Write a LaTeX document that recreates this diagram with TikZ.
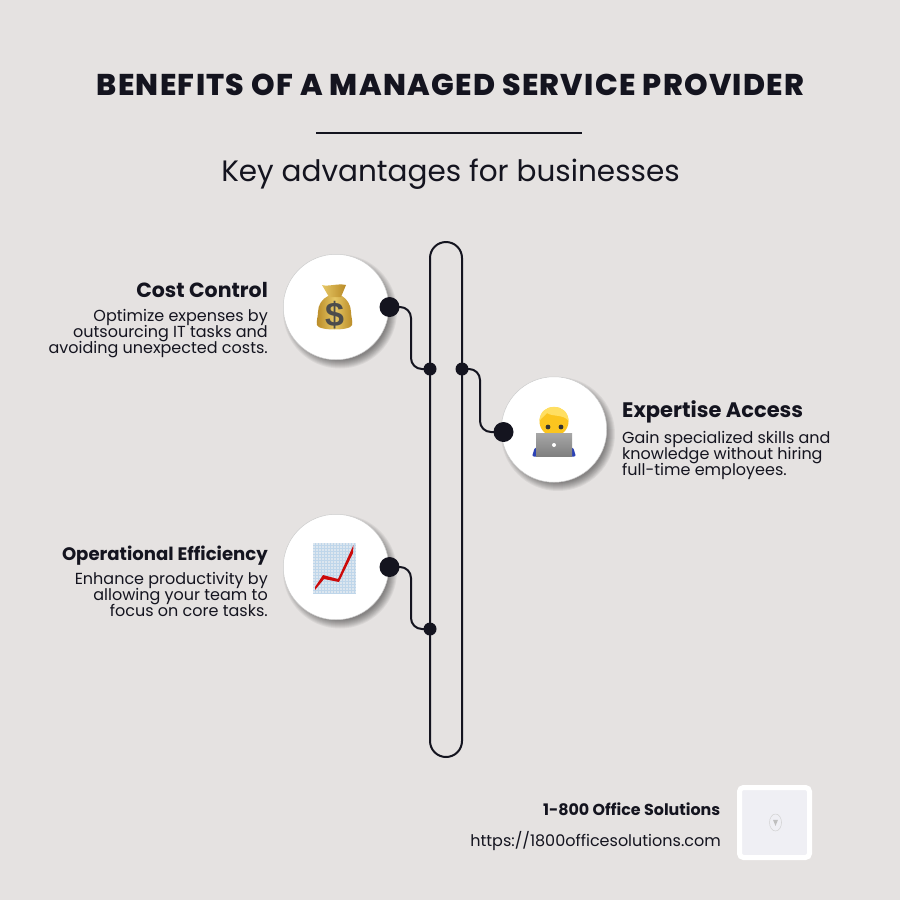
\documentclass[tikz,border=0pt]{standalone}
\usepackage{fontspec}
\usepackage{tikz}
\usetikzlibrary{calc, shapes.geometric}
\setmainfont{Poppins}
\newfontfamily\titlefont{Poppins}[UprightFont=* ExtraBold, LetterSpace=4.3]
\newfontfamily\headfont{Poppins}[UprightFont=* Bold]
\newfontfamily\dollarfont{Liberation Sans}[UprightFont=* Bold]
\newcommand{\blurbfont}{\fontsize{16}{16}\selectfont\lineskiplimit=-10pt\relax}

\definecolor{pagegray}{HTML}{E5E2E1}
\definecolor{inkblue}{HTML}{14141F}
\definecolor{logofill}{HTML}{EFEFF4}
\definecolor{bagdark}{HTML}{B98A26}
\definecolor{baglight}{HTML}{E6C765}
\definecolor{faceyellow}{HTML}{FBC51F}
\definecolor{hairyellow}{HTML}{FFDF62}
\definecolor{shirtblue}{HTML}{2B41B5}
\definecolor{chartblue}{HTML}{DCE6EF}
\definecolor{gridblue}{HTML}{BFD6EA}
\definecolor{chartred}{HTML}{CC0A0A}

\tikzset{
	wire/.style={draw=inkblue, line width=2pt, line join=round},
	joint/.style={circle, fill=inkblue, inner sep=0pt, minimum size=13pt},
	pin/.style={circle, fill=inkblue, inner sep=0pt, minimum size=20pt},
	badge/.style={circle, fill=white, draw=black!20, line width=0.5pt, inner sep=0pt, minimum size=105.5pt},
	heading/.style={font=\headfont\fontsize{#1}{20}\selectfont, text=inkblue, inner sep=0pt},
	blurb/.style={font=\blurbfont, text=inkblue, inner sep=0pt},
}

\begin{document}
\begin{tikzpicture}[x=1pt, y=-1pt]
	\useasboundingbox (0,0) rectangle (900,900);
	\fill[pagegray] (0,0) rectangle (900,900);

	% title block
	\node[font=\titlefont\fontsize{30}{30}\selectfont, text=inkblue, inner sep=0pt] (title) at (450.5,85) {BENEFITS OF A MANAGED SERVICE PROVIDER};
	\coordinate (ruleleft) at (316,132.5);
	\coordinate (ruleright) at (582,132.5);
	\draw[draw=inkblue, line width=2pt] (ruleleft) -- (ruleright);
	\node[font=\fontsize{29.5}{32}\selectfont, text=inkblue, inner sep=0pt] (subtitle) at (450.5,174) {Key advantages for businesses};

	% track
	\coordinate (tracktl) at (430,242);
	\coordinate (trackbr) at (462,757);
	\draw[wire, rounded corners=16pt] (tracktl) rectangle (trackbr);

	% shadows
	\foreach \spot in {(336,307),(554,429.5),(336,567)} {
		\foreach \grow in {49,...,57} {
			\fill[black, opacity=0.055] \spot ++(4,4.5) circle (\grow pt);
		}
	}

	% badges
	\node[badge] (cost) at (336,307) {};
	\node[badge] (expert) at (554,429.5) {};
	\node[badge] (ops) at (336,567) {};

	% pins and joints
	\node[joint] (costjoin) at (430,369) {};
	\node[joint] (expertjoin) at (462,369) {};
	\node[joint] (opsjoin) at (430,629) {};
	\node[pin] (costpin) at (389.5,307) {};
	\node[pin] (expertpin) at (503.5,432) {};
	\node[pin] (opspin) at (389.5,567) {};
	\coordinate (costbend) at (411,340);
	\coordinate (expertbend) at (480,400);
	\coordinate (opsbend) at (411,600);
	\draw[wire, rounded corners=11pt] (costpin.center) -| (costbend) |- (costjoin.center);
	\draw[wire, rounded corners=11pt] (expertjoin.center) -| (expertbend) |- (expertpin.center);
	\draw[wire, rounded corners=11pt] (opspin.center) -| (opsbend) |- (opsjoin.center);

	% labels
	\node[heading=20.5, anchor=east] (costhead) at (268,290) {Cost Control};
	\node[blurb, anchor=north east, align=right] (costtext) at (268,309.5) {Optimize expenses by\\outsourcing IT tasks and\\avoiding unexpected costs.};
	\node[heading=21, anchor=west] (experthead) at (622,412) {Expertise Access};
	\node[blurb, anchor=north west, align=left] (experttext) at (622,431.5) {Gain specialized skills and\\knowledge without hiring\\full-time employees.};
	\node[heading=18.1, anchor=east] (opshead) at (268,556) {Operational Efficiency};
	\node[blurb, anchor=north east, align=right] (opstext) at (268,572.5) {Enhance productivity by\\allowing your team to\\focus on core tasks.};

	% money bag
	\shade[left color=bagdark, right color=bagdark, middle color=baglight] (328,296) .. controls (322,299) and (318,305) .. (318,312) .. controls (318,317) and (316,321) .. (317,325) .. controls (318,331) and (351,331) .. (352,325) .. controls (353,321) and (351,317) .. (351,312) .. controls (351,305) and (347,299) .. (342,296) -- cycle;
	\shade[left color=baglight, right color=bagdark] (322,285) .. controls (328,287) and (338,283) .. (346,285) -- (341,297) -- (329,297) -- cycle;
	\node[font=\dollarfont\fontsize{34}{34}\selectfont, text=black!70, inner sep=0pt] (dollar) at (334.5,315.5) {\$};

	% person with laptop
	\fill[shirtblue, rounded corners=2pt] (532,456.5) -- (535,447) -- (573,447) -- (576,456.5) -- cycle;
	\fill[faceyellow] (554,421.5) circle (14.5pt);
	\fill[hairyellow] (539.5,421) .. controls (539.5,402) and (568.5,402) .. (568.5,421) .. controls (564,414) and (552,417) .. (547,413) .. controls (545,416) and (542,417) .. (539.5,421) -- cycle;
	\fill[black!80] (548,427) circle (2.4pt) (561,427) circle (2.4pt);
	\shade[top color=black!35, bottom color=black!50] (536,433.5) rectangle (572,456);
	\fill[white] (554,445) circle (2pt);

	% chart
	\fill[chartblue] (313,543) rectangle (356,594);
	\foreach \gridx in {315,318,...,355} {
		\draw[gridblue, line width=0.25pt] (\gridx,543) -- (\gridx,594);
	}
	\foreach \gridy in {545,548,...,593} {
		\draw[gridblue, line width=0.25pt] (313,\gridy) -- (356,\gridy);
	}
	\fill[chartred] (315,587) -- (323,575) -- (338,579) -- (353.5,545) -- (353,553) -- (339,582) -- (324,579) -- (315,590) -- cycle;

	% footer
	\node[font=\headfont\fontsize{15.9}{16}\selectfont, text=inkblue, inner sep=0pt, anchor=east] (company) at (720.5,809.5) {1-800 Office Solutions};
	\node[font=\fontsize{16}{16}\selectfont, text=inkblue, inner sep=0pt, anchor=east] (website) at (721,841) {https://1800officesolutions.com};
	\node[fill=logofill, draw=white, line width=5pt, rounded corners=4pt, minimum size=70pt, inner sep=0pt] (logo) at (774.5,822.5) {};
	\node[ellipse, draw=black!18, line width=0.5pt, minimum width=12pt, minimum height=17pt, inner sep=0pt] (logomark) at (775.5,822.5) {};
	\node[isosceles triangle, shape border rotate=-90, fill=black!25, inner sep=0pt, minimum size=5pt] (logoglyph) at (775.5,821.5) {};
\end{tikzpicture}
\end{document}
